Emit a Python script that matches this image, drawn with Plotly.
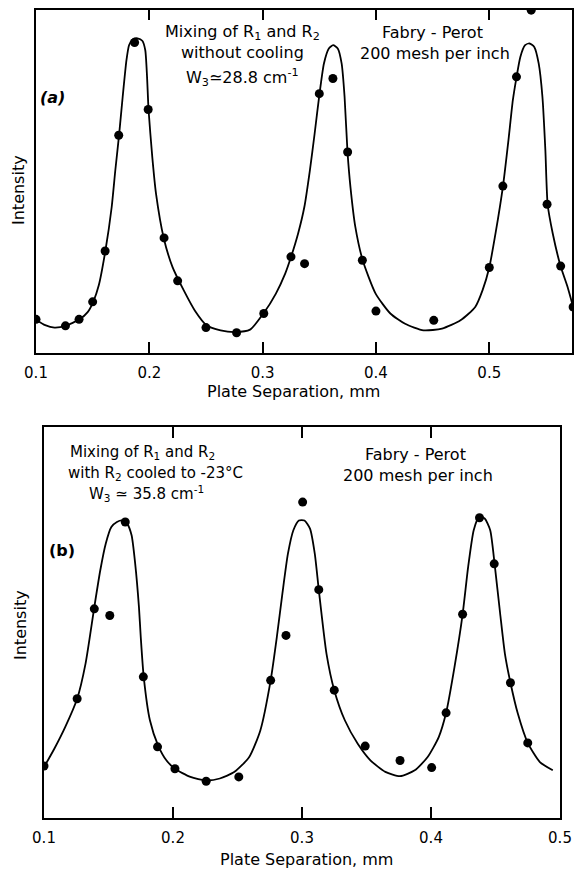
import plotly.graph_objects as go

# ---------------- Panel (a): without cooling ----------------
a_pts_x = [0.100, 0.126, 0.138, 0.150, 0.161, 0.173, 0.187, 0.199, 0.213, 0.225,
           0.250, 0.277, 0.301, 0.325, 0.337, 0.350, 0.362, 0.375, 0.388, 0.400,
           0.451, 0.500, 0.512, 0.524, 0.537, 0.551, 0.563, 0.574]
a_pts_y = [9.8, 7.9, 9.8, 14.9, 29.7, 63.4, 90.4, 70.9, 33.5, 21.0,
           7.4, 5.9, 11.5, 28.0, 26.0, 75.5, 79.9, 58.5, 27.0, 12.2,
           9.5, 24.9, 48.6, 80.4, 99.8, 43.3, 25.3, 13.4]

a_fit_x = [0.1000, 0.1081, 0.1163, 0.1261, 0.1384, 0.1456, 0.1505, 0.1554, 0.1612, 0.1668,
           0.1700, 0.1733, 0.1765, 0.1798, 0.1821, 0.1853, 0.1896, 0.1938, 0.1964, 0.1980,
           0.1993, 0.2026, 0.2059, 0.2127, 0.2205, 0.2303, 0.2401, 0.2505, 0.2629, 0.2759,
           0.2889, 0.3007, 0.3117, 0.3199, 0.3251, 0.3313, 0.3368, 0.3417, 0.3459, 0.3502,
           0.3541, 0.3583, 0.3622, 0.3664, 0.3697, 0.3723, 0.3749, 0.3775, 0.3818, 0.3883,
           0.3997, 0.4127, 0.4257, 0.4420, 0.4583, 0.4746, 0.4876, 0.4941, 0.5000, 0.5055,
           0.5121, 0.5169, 0.5208, 0.5241, 0.5274, 0.5316, 0.5355, 0.5397, 0.5436, 0.5469,
           0.5495, 0.5515, 0.5560, 0.5629, 0.5691, 0.5740]
a_fit_y = [9.7, 8.1, 7.4, 7.9, 9.8, 11.9, 14.9, 19.7, 29.7, 42.5,
           53.2, 63.4, 74.6, 85.2, 89.6, 91.3, 91.6, 90.9, 88.2, 80.4,
           70.9, 57.1, 46.4, 33.5, 25.0, 18.3, 12.4, 8.1, 6.6, 6.1,
           6.8, 11.5, 17.3, 23.1, 28.0, 34.8, 42.5, 53.2, 63.9, 75.5,
           84.3, 88.6, 89.6, 88.6, 84.3, 74.6, 58.5, 48.3, 36.7, 27.0,
           17.3, 11.5, 8.5, 6.6, 7.1, 9.5, 13.4, 18.3, 24.9, 34.8,
           48.6, 61.9, 73.6, 80.4, 86.2, 89.6, 90.1, 89.1, 84.3, 74.6,
           59.0, 43.3, 34.8, 25.3, 19.2, 13.4]

# ---------------- Panel (b): R2 cooled to -23 C ----------------
b_pts_x = [0.100, 0.1257, 0.139, 0.151, 0.163, 0.177, 0.188, 0.2015, 0.2257, 0.251,
           0.2757, 0.2876, 0.3005, 0.313, 0.325, 0.349, 0.376, 0.4005, 0.4117, 0.4245,
           0.4376, 0.449, 0.4616, 0.475]
b_pts_y = [13.3, 30.5, 53.5, 51.8, 75.7, 36.1, 18.2, 12.6, 9.4, 10.5,
           35.2, 46.7, 80.8, 58.4, 32.7, 18.4, 14.7, 12.9, 26.9, 52.1,
           76.8, 65.0, 34.6, 19.2]

b_fit_x = [0.1000, 0.1080, 0.1165, 0.1257, 0.1322, 0.1388, 0.1436, 0.1479, 0.1522, 0.1565,
           0.1607, 0.1644, 0.1679, 0.1707, 0.1736, 0.1750, 0.1773, 0.1821, 0.1884, 0.1950,
           0.2015, 0.2135, 0.2257, 0.2363, 0.2477, 0.2591, 0.2677, 0.2757, 0.2805, 0.2848,
           0.2891, 0.2933, 0.2976, 0.3019, 0.3062, 0.3099, 0.3130, 0.3190, 0.3250, 0.3332,
           0.3432, 0.3532, 0.3646, 0.3760, 0.3874, 0.3974, 0.4060, 0.4117, 0.4182, 0.4245,
           0.4288, 0.4331, 0.4373, 0.4416, 0.4459, 0.4493, 0.4536, 0.4573, 0.4616, 0.4673,
           0.4750, 0.4844, 0.4944]
b_fit_y = [13.0, 17.7, 23.3, 30.5, 39.5, 53.5, 63.3, 70.2, 74.4, 75.7,
           76.1, 75.3, 72.3, 65.0, 54.0, 46.3, 36.1, 25.0, 18.6, 14.7,
           12.6, 10.5, 9.6, 10.1, 11.8, 15.6, 22.4, 35.2, 46.3, 57.4,
           67.6, 73.6, 76.1, 76.1, 74.0, 67.6, 58.4, 42.0, 32.7, 25.0,
           19.0, 14.7, 11.8, 10.7, 12.2, 15.6, 20.7, 26.9, 38.6, 52.1,
           64.2, 73.6, 77.0, 76.6, 73.6, 65.0, 52.3, 42.0, 34.6, 26.7,
           19.2, 14.3, 12.2]

x_ticks = [0.1, 0.2, 0.3, 0.4, 0.5]
x_tick_text = ["0.1", "0.2", "0.3", "0.4", "0.5"]

FONT = "DejaVu Sans"
W, H = 576, 869

fig = go.Figure()

fig.add_trace(go.Scatter(x=a_fit_x, y=a_fit_y, mode="lines",
                         line=dict(color="black", width=1.8, shape="spline", smoothing=0.6),
                         xaxis="x", yaxis="y", showlegend=False, hoverinfo="skip"))
fig.add_trace(go.Scatter(x=a_pts_x, y=a_pts_y, mode="markers",
                         marker=dict(color="black", size=9),
                         xaxis="x", yaxis="y", showlegend=False))
fig.add_trace(go.Scatter(x=b_fit_x, y=b_fit_y, mode="lines",
                         line=dict(color="black", width=1.8, shape="spline", smoothing=0.6),
                         xaxis="x2", yaxis="y2", showlegend=False, hoverinfo="skip"))
fig.add_trace(go.Scatter(x=b_pts_x, y=b_pts_y, mode="markers",
                         marker=dict(color="black", size=9),
                         xaxis="x2", yaxis="y2", showlegend=False))

def px_x(p):
    return p / W

def px_y(p):
    return 1 - p / H

xa_common = dict(tickvals=x_ticks, ticktext=x_tick_text, ticks="inside", ticklen=11,
                 tickwidth=1.5, tickcolor="black", showline=True, linecolor="black",
                 linewidth=1.5, mirror="allticks", showgrid=False, zeroline=False,
                 tickfont=dict(family=FONT, size=15, color="black"),
                 ticklabelstandoff=5, automargin=False)
ya_common = dict(range=[0, 100], showticklabels=False, ticks="", showline=True,
                 linecolor="black", linewidth=1.5, mirror=True, showgrid=False,
                 zeroline=False, automargin=False)

fig.update_layout(
    width=W, height=H,
    margin=dict(l=0, r=0, t=0, b=0, autoexpand=False),
    paper_bgcolor="white", plot_bgcolor="white",
    xaxis=dict(domain=[px_x(36), px_x(572)], range=[0.1, 0.573], anchor="y", **xa_common),
    yaxis=dict(domain=[px_y(353), px_y(9.5)], anchor="x", **ya_common),
    xaxis2=dict(domain=[px_x(44), px_x(560)], range=[0.1, 0.5], anchor="y2", **xa_common),
    yaxis2=dict(domain=[px_y(818), px_y(427)], anchor="x2", **ya_common),
)

def note(text, x, y, size=15, angle=0):
    fig.add_annotation(text=text, x=px_x(x), y=px_y(y), xref="paper", yref="paper",
                       showarrow=False, xanchor="center", yanchor="middle",
                       textangle=angle, font=dict(family=FONT, size=size, color="black"))

# panel (a) texts
note("Mixing of R<sub>1</sub> and R<sub>2</sub>", 242, 32, size=16)
note("without cooling", 242, 52, size=16)
note("W<sub>3</sub>≃28.8 cm<sup>-1</sup>", 242, 77, size=16)
note("Fabry - Perot", 432, 33, size=16)
note("200 mesh per inch", 435, 53, size=16)
note("<b><i>(a)</i></b>", 52, 97, size=16)
note("Intensity", 18, 190, size=16, angle=-90)
note("Plate Separation, mm", 293, 391, size=16)

# panel (b) texts
note("Mixing of R<sub>1</sub> and R<sub>2</sub>", 142, 452, size=15)
note("with R<sub>2</sub> cooled to -23°C", 155, 473, size=15)
note("W<sub>3</sub> ≃ 35.8 cm<sup>-1</sup>", 146, 493, size=15)
note("Fabry - Perot", 415, 454, size=16)
note("200 mesh per inch", 418, 475, size=16)
note("<b>(b)</b>", 62, 550, size=16)
note("Intensity", 20, 625, size=16, angle=-90)
note("Plate Separation, mm", 306, 859, size=16)

fig.write_html("out.html", config={"displayModeBar": False},
               post_script="document.body.style.margin='0';")
